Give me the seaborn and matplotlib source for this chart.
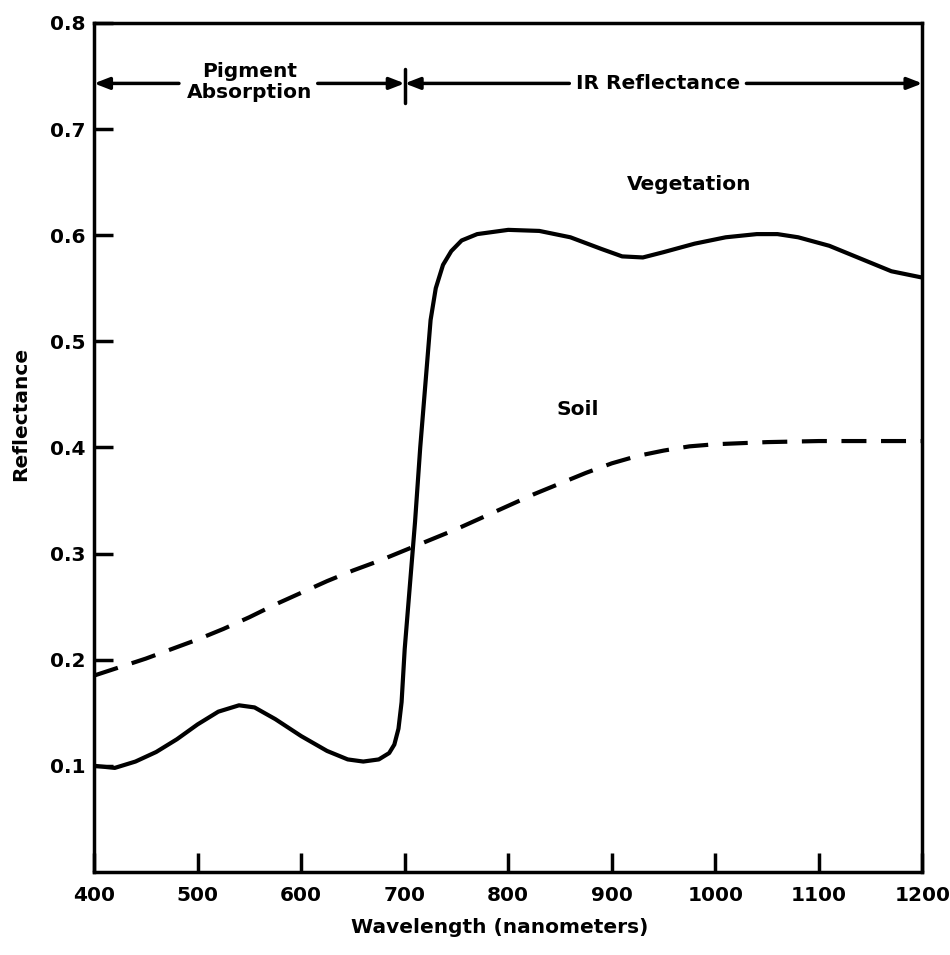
import numpy as np
import pandas as pd
import matplotlib
matplotlib.use("Agg")
import matplotlib.pyplot as plt
import seaborn as sns

# ------------------------------
# Data
# ------------------------------
veg_wavelength = [400, 420, 440, 460, 480, 500, 520, 540, 555, 575, 600, 625, 645,
                  660, 675, 685, 690, 694, 697, 700, 705, 710, 715, 720, 725, 730,
                  737, 745, 755, 770, 800, 830, 860, 890, 910, 930, 950, 980, 1010,
                  1040, 1060, 1080, 1110, 1140, 1170, 1200]
veg_reflectance = [0.100, 0.098, 0.104, 0.113, 0.125, 0.139, 0.151, 0.157, 0.155, 0.144,
                   0.128, 0.114, 0.106, 0.104, 0.106, 0.112, 0.120, 0.135, 0.16, 0.21,
                   0.27, 0.33, 0.40, 0.46, 0.52, 0.55, 0.572, 0.585, 0.595, 0.601,
                   0.605, 0.604, 0.598, 0.587, 0.580, 0.579, 0.584, 0.592, 0.598,
                   0.601, 0.601, 0.598, 0.590, 0.578, 0.566, 0.560]

soil_wavelength = [400, 425, 450, 475, 500, 525, 550, 575, 600, 625, 650, 675, 700,
                   725, 750, 775, 800, 825, 850, 875, 900, 925, 950, 975, 1000, 1050,
                   1100, 1150, 1200]
soil_reflectance = [0.185, 0.193, 0.201, 0.210, 0.219, 0.229, 0.240, 0.252, 0.263,
                    0.274, 0.284, 0.293, 0.303, 0.313, 0.323, 0.334, 0.345, 0.356,
                    0.366, 0.376, 0.385, 0.392, 0.397, 0.401, 0.403, 0.405, 0.406,
                    0.406, 0.406]

x_ticks = [400, 500, 600, 700, 800, 900, 1000, 1100, 1200]
y_ticks = [0.1, 0.2, 0.3, 0.4, 0.5, 0.6, 0.7, 0.8]

veg = pd.DataFrame({"Wavelength": veg_wavelength, "Reflectance": veg_reflectance})
soil = pd.DataFrame({"Wavelength": soil_wavelength, "Reflectance": soil_reflectance})

# ------------------------------
# Style
# ------------------------------
sns.set_style("ticks")
plt.rcParams["font.family"] = ["DejaVu Sans"]
plt.rcParams["font.weight"] = "bold"
plt.rcParams["axes.labelweight"] = "bold"
plt.rcParams["text.color"] = "black"
plt.rcParams["axes.labelcolor"] = "black"
plt.rcParams["xtick.color"] = "black"
plt.rcParams["ytick.color"] = "black"

fig = plt.figure(figsize=(9.5, 9.55), dpi=100)
ax = fig.add_axes([0.099, 0.087, 0.872, 0.889])

sns.lineplot(data=veg, x="Wavelength", y="Reflectance", color="black",
             linewidth=3, ax=ax)
sns.lineplot(data=soil, x="Wavelength", y="Reflectance", color="black",
             linewidth=3, ax=ax)
ax.lines[-1].set_dashes([6, 3.5])

ax.set_xlim(400, 1200)
ax.set_ylim(0, 0.8)
ax.set_xticks(x_ticks)
ax.set_yticks(y_ticks)
ax.set_xticklabels([str(t) for t in x_ticks])
ax.set_yticklabels([f"{t:.1f}" for t in y_ticks])
ax.tick_params(direction="in", length=14, width=2.5, labelsize=14.5,
               color="black", labelcolor="black")
ax.tick_params(axis="x", pad=10)
ax.tick_params(axis="y", pad=6)
for s in ax.spines.values():
    s.set_linewidth(2.5)
    s.set_color("black")

ax.set_xlabel("Wavelength (nanometers)", fontsize=14.5, color="black")
ax.set_ylabel("Reflectance", fontsize=14.5, color="black")
ax.xaxis.set_label_coords(0.49, -0.054)
ax.yaxis.set_label_coords(-0.077, 0.54)

# ------------------------------
# Region annotations
# ------------------------------
arrow_y = 0.743
arr = dict(arrowstyle="-|>,head_length=0.9,head_width=0.35", color="black",
           lw=2.5, shrinkA=0, shrinkB=0)
ax.annotate("", xy=(400, arrow_y), xytext=(482, arrow_y), arrowprops=arr)
ax.annotate("", xy=(700, arrow_y), xytext=(616, arrow_y), arrowprops=arr)
ax.annotate("", xy=(700, arrow_y), xytext=(859, arrow_y), arrowprops=arr)
ax.annotate("", xy=(1200, arrow_y), xytext=(1030, arrow_y), arrowprops=arr)
ax.plot([700, 700], [0.725, 0.757], color="black", lw=2.5)

ax.text(550, 0.744, "Pigment\nAbsorption", ha="center", va="center",
        fontsize=14.5, linespacing=1.15, color="black")
ax.text(945, arrow_y, "IR Reflectance", ha="center", va="center",
        fontsize=14.5, color="black")
ax.text(975, 0.648, "Vegetation", ha="center", va="center",
        fontsize=14.5, color="black")
ax.text(867, 0.436, "Soil", ha="center", va="center",
        fontsize=14.5, color="black")

fig.savefig("out.png", dpi=100)
